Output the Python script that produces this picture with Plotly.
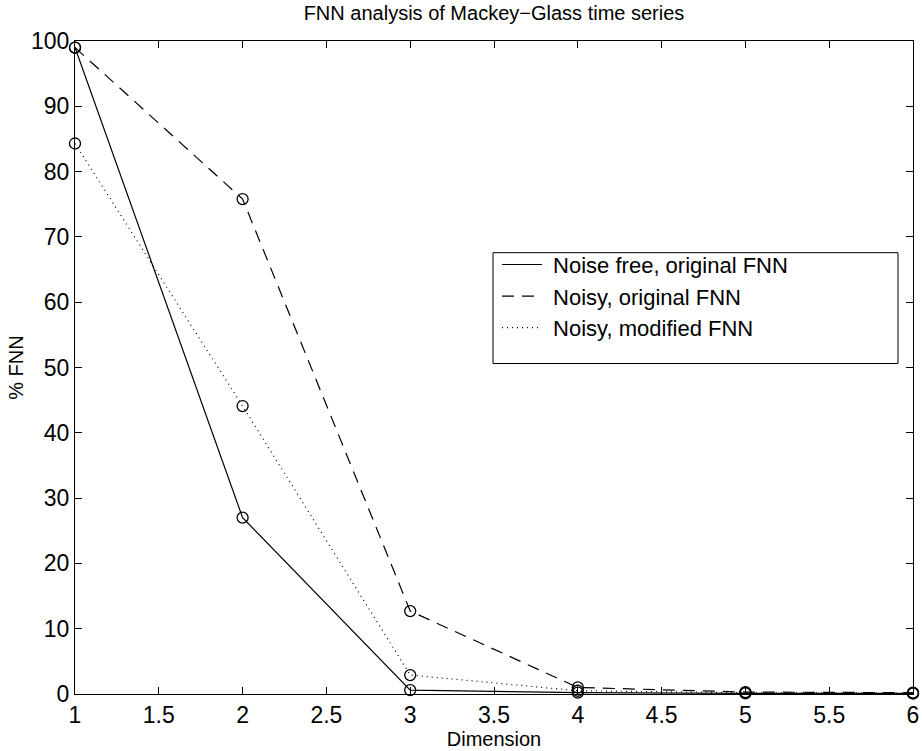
import plotly.graph_objects as go

dimension = [1, 2, 3, 4, 5, 6]
noise_free_orig = [99.0, 27.0, 0.6, 0.2, 0.1, 0.1]
noisy_orig = [99.0, 75.8, 12.7, 1.0, 0.3, 0.2]
noisy_mod = [84.3, 44.1, 2.9, 0.5, 0.2, 0.1]

series = [
    ("Noise free, original FNN", noise_free_orig, "solid"),
    ("Noisy, original FNN", noisy_orig, "12px,8px"),
    ("Noisy, modified FNN", noisy_mod, "1px,4px"),
]

fig = go.Figure()
for name, vals, dash in series:
    fig.add_trace(go.Scatter(
        x=dimension, y=vals, mode="lines", name="\u00a0" + name,
        line=dict(color="black", width=1.2, dash=dash),
        cliponaxis=False,
    ))
for name, vals, dash in series:
    fig.add_trace(go.Scatter(
        x=dimension, y=vals, mode="markers", showlegend=False,
        marker=dict(symbol="circle-open", size=11, color="black",
                    line=dict(width=1.3, color="black")),
        cliponaxis=False,
    ))

font = "Liberation Sans, Arial, Helvetica, sans-serif"
axis_common = dict(
    showline=True, linecolor="black", linewidth=1.2, mirror="ticks",
    ticks="inside", ticklen=7, tickcolor="black", tickwidth=1,
    showgrid=False, zeroline=False, automargin=False,
    tickfont=dict(size=23, color="black", family=font),
)
fig.update_layout(
    width=922, height=751,
    margin=dict(l=75, r=9, t=41, b=57),
    paper_bgcolor="white", plot_bgcolor="white",
    font=dict(family=font, color="black"),
    title=dict(text="FNN analysis of Mackey\u2212Glass time series",
               x=(75 + 913) / 2 / 922, xanchor="center",
               y=1 - 13 / 751, yanchor="middle",
               font=dict(size=20, color="black", family=font)),
    xaxis=dict(range=[1, 6], tickvals=[1, 1.5, 2, 2.5, 3, 3.5, 4, 4.5, 5, 5.5, 6],
               ticktext=["1", "1.5", "2", "2.5", "3", "3.5", "4", "4.5", "5", "5.5", "6"],
               title=dict(text="Dimension", font=dict(size=20, family=font), standoff=2),
               **axis_common),
    yaxis=dict(range=[0, 100], tickvals=list(range(0, 101, 10)),
               title=dict(text="% FNN", font=dict(size=20, family=font), standoff=1),
               **axis_common),
    legend=dict(x=(497 - 75) / 838, y=1 - (244 - 41) / 654, xanchor="left", yanchor="top",
                bgcolor="rgba(0,0,0,0)", borderwidth=0,
                font=dict(size=22, color="black", family=font),
                itemwidth=40, tracegroupgap=0),
    shapes=[dict(type="rect", xref="paper", yref="paper",
                 x0=(493 - 75) / 838, x1=(898 - 75) / 838,
                 y0=1 - (364 - 41) / 654, y1=1 - (253 - 41) / 654,
                 line=dict(color="black", width=1), fillcolor="white", layer="below")],
)

fig.write_html("out.html")
